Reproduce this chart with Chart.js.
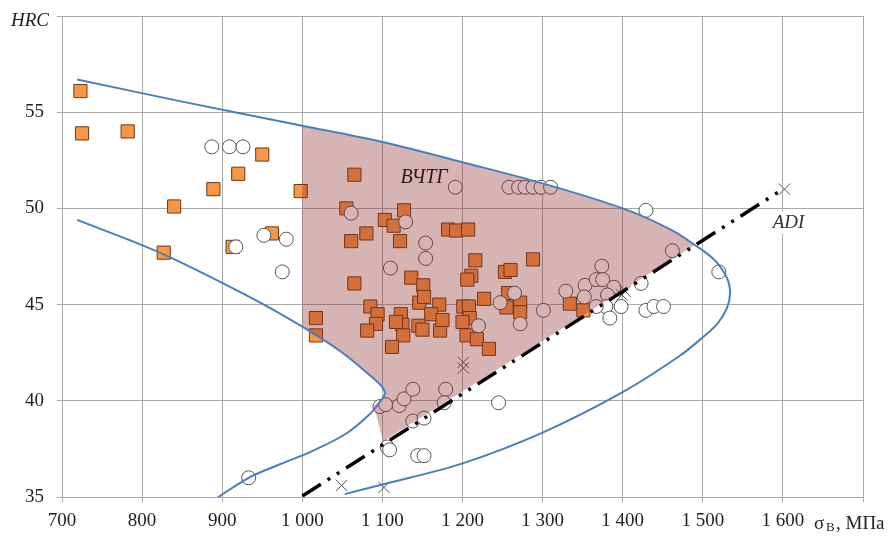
<!DOCTYPE html>
<html>
<head>
<meta charset="utf-8">
<script src="https://cdn.jsdelivr.net/npm/chart.js@4.4.1/dist/chart.umd.min.js"></script>
<style>
  html, body { margin: 0; padding: 0; background: #fff; }
</style>
</head>
<body>
<canvas id="hrcChart" width="890" height="536"></canvas>
<script>
// ВЧТГ (квадраты) - [σв, HRC]
const vchtgPoints = [
  [723, 56.1], [725, 53.9], [782, 54.0], [950, 52.8], [920, 51.8], [889, 51.0], [840, 50.1],
  [827, 47.7], [913, 48.0], [962, 48.7], [998, 50.9],
  [1065, 51.75], [1055, 50.0], [1127, 49.9], [1103, 49.4], [1114, 49.1], [1080, 48.7], [1061, 48.3],
  [1122, 48.3], [1182, 48.9], [1192, 48.85], [1207, 48.9], [1216, 47.3], [1211, 46.5], [1206, 46.3],
  [1065, 46.1], [1136, 46.4], [1151, 46.0], [1146, 45.1], [1152, 45.4], [1171, 45.0], [1161, 44.5],
  [1085, 44.9], [1094, 44.5], [1092, 44.0], [1081, 43.65], [1123, 44.5], [1125, 43.95], [1117, 44.1],
  [1126, 43.4], [1112, 42.8], [1145, 43.9], [1150, 43.7], [1172, 43.65], [1175, 44.2], [1017, 44.3],
  [1017, 43.4], [1201, 44.9], [1208, 44.9], [1227, 45.3], [1209, 44.3], [1205, 43.4], [1218, 43.2],
  [1233, 42.7], [1200, 44.1], [1288, 47.35], [1253, 46.7], [1260, 46.8], [1257, 45.6], [1255, 44.85],
  [1272, 45.1], [1272, 44.6], [1334, 45.05], [1351, 44.7]
];

// ADI (кружки)
const adiPoints = [
  [887, 53.2], [909, 53.2], [926, 53.2], [917, 48.0], [952, 48.6], [980, 48.4], [975, 46.7], [933, 36.0],
  [1061, 49.75], [1129, 49.3], [1154, 48.2], [1154, 47.4], [1110, 46.9], [1191, 51.1],
  [1258, 51.1], [1270, 51.1], [1278, 51.1], [1288, 51.1], [1298, 51.1], [1310, 51.1],
  [1220, 43.9], [1247, 45.1], [1265, 45.6], [1272, 44.0], [1301, 44.7], [1329, 45.7], [1353, 46.0],
  [1352, 45.4], [1374, 47.0], [1367, 46.3], [1375, 46.3], [1389, 45.9], [1381, 45.5], [1398, 44.9],
  [1379, 44.9], [1367, 44.9], [1384, 44.3], [1423, 46.1], [1429, 49.9], [1429, 44.7], [1439, 44.9],
  [1451, 44.9], [1462, 47.8], [1520, 46.7],
  [1097, 39.7], [1104, 39.8], [1121, 39.75], [1127, 40.1], [1138, 40.6], [1138, 38.95], [1152, 39.1],
  [1179, 40.6], [1177, 39.9], [1245, 39.9], [1106, 37.6], [1109, 37.45], [1144, 37.15], [1152, 37.15]
];

// крестики
const crossPoints = [[1049, 35.6], [1102, 35.5], [1201, 41.7], [1201, 42.0], [1399, 45.5], [1403, 45.7], [1602, 51.0]];

// линия ADI
const adiLine = [[1000, 35.05], [1600, 51.0]];

// внешняя граница
const outerCurve = [
  [719, 56.7], [850, 55.55], [1000, 54.3], [1100, 53.45], [1200, 52.4], [1300, 51.3],
  [1400, 50.0], [1460, 48.9], [1490, 48.1], [1515, 47.3], [1530, 46.4], [1534, 45.6], [1530, 44.8],
  [1518, 44.0], [1500, 43.3], [1470, 42.3], [1400, 40.45], [1300, 38.35], [1200, 36.75],
  [1100, 35.65], [1053, 35.15]
];

// внутренняя граница
const innerCurve = [
  [719, 49.4], [822, 47.7], [934, 45.4], [1000, 43.85], [1050, 42.5], [1085, 41.3],
  [1100, 40.7], [1103, 40.35], [1097, 39.95], [1084, 39.3], [1055, 38.3], [1013, 37.4], [972, 36.7],
  [933, 36.0], [888, 34.8]
];

// область ВЧТГ
const shadeArea = [
  [1000, 54.3], [1100, 53.45], [1200, 52.4], [1300, 51.3], [1400, 50.0], [1460, 48.9], [1490, 48.1],
  [1101, 37.9], [1089, 39.75], [1097, 39.95], [1103, 40.35], [1100, 40.7], [1085, 41.3], [1050, 42.5],
  [1000, 43.85], [1000, 54.3]
];

const toXY = arr => arr.map(p => ({ x: p[0], y: p[1] }));

const serif = '"Liberation Serif", "DejaVu Serif", serif';
const gridColor = '#a9a9a9';

// подписи
const labelsPlugin = {
  id: 'labels',
  afterDraw(chart) {
    const c = chart.ctx;
    const xs = chart.scales.x, ys = chart.scales.y;
    c.save();
    c.fillStyle = '#222';
    c.textBaseline = 'middle';
    c.font = 'italic 19px ' + serif;
    c.textAlign = 'left';
    c.fillText('HRC', 11, 21);

    // σв, МПа
    c.font = '19px ' + serif;
    c.fillText('σ', 814, 524);
    c.font = '13px ' + serif;
    c.fillText('В', 826, 528);
    c.font = '19px ' + serif;
    c.fillText(', МПа', 836, 524);

    // ВЧТГ
    c.font = 'italic 20px ' + serif;
    c.textAlign = 'center';
    c.fillStyle = '#2b1a1a';
    c.fillText('ВЧТГ', xs.getPixelForValue(1152), ys.getPixelForValue(51.6));

    // ADI
    const ax = xs.getPixelForValue(1607), ay = ys.getPixelForValue(49.25);
    c.fillStyle = '#fff';
    c.fillRect(ax - 20, ay - 11, 40, 22);
    c.fillStyle = '#333';
    c.font = 'italic 19px ' + serif;
    c.fillText('ADI', ax, ay);
    c.restore();
  }
};

const fmt = v => v >= 1000 ? Math.floor(v / 1000) + ' ' + String(v % 1000).padStart(3, '0') : String(v);

new Chart(document.getElementById('hrcChart'), {
  type: 'scatter',
  data: {
    datasets: [
      {
        label: 'outer',
        data: toXY(outerCurve),
        showLine: true,
        borderColor: '#4a7ebb',
        borderWidth: 2,
        pointRadius: 0,
        tension: 0.35,
        fill: false,
        order: 0
      },
      {
        label: 'inner',
        data: toXY(innerCurve),
        showLine: true,
        borderColor: '#4a7ebb',
        borderWidth: 2,
        pointRadius: 0,
        tension: 0.35,
        fill: false,
        order: 0
      },
      {
        label: 'area',
        data: toXY(shadeArea),
        showLine: true,
        borderWidth: 0,
        borderColor: 'rgba(0,0,0,0)',
        backgroundColor: 'rgba(140,40,40,0.35)',
        pointRadius: 0,
        tension: 0,
        fill: 'shape',
        order: 1
      },
      {
        label: 'ADI line',
        data: toXY(adiLine),
        showLine: true,
        borderColor: '#000',
        borderWidth: 3.5,
        borderDash: [22, 8, 3, 8, 3, 8],
        pointRadius: 0,
        fill: false,
        order: 2
      },
      {
        label: 'cross',
        data: toXY(crossPoints),
        pointStyle: 'crossRot',
        pointRadius: 8,
        borderColor: '#555',
        borderWidth: 1,
        order: 2
      },
      {
        label: 'ADI',
        data: toXY(adiPoints),
        pointStyle: 'circle',
        pointRadius: 7,
        backgroundColor: '#fff',
        borderColor: '#555',
        borderWidth: 1,
        order: 3
      },
      {
        label: 'ВЧТГ',
        data: toXY(vchtgPoints),
        pointStyle: 'rect',
        pointRadius: 9.3,
        backgroundColor: '#f79646',
        borderColor: '#6b3a14',
        borderWidth: 1,
        order: 4
      }
    ]
  },
  options: {
    responsive: false,
    animation: false,
    layout: { padding: { top: 16, right: 27, left: 0, bottom: 0 } },
    plugins: {
      legend: { display: false },
      tooltip: { enabled: false }
    },
    scales: {
      x: {
        type: 'linear',
        min: 700,
        max: 1700,
        afterFit: s => { s.height = 39; s.paddingLeft = 0; s.paddingRight = 0; },
        grid: { color: gridColor, lineWidth: 1, tickLength: 5, tickColor: gridColor },
        border: { color: gridColor },
        ticks: {
          stepSize: 100,
          padding: 8,
          color: '#222',
          font: { family: serif, size: 19 },
          maxRotation: 0,
          callback: v => v === 1700 ? '' : fmt(v)
        }
      },
      y: {
        min: 35,
        max: 60,
        afterFit: s => { s.width = 62; s.paddingTop = 0; s.paddingBottom = 0; },
        grid: { color: gridColor, lineWidth: 1, tickLength: 5, tickColor: gridColor },
        border: { color: gridColor },
        ticks: {
          stepSize: 5,
          padding: 13,
          color: '#222',
          font: { family: serif, size: 19 },
          callback: v => v === 60 ? '' : String(v)
        }
      }
    }
  },
  plugins: [labelsPlugin]
});
</script>
</body>
</html>
